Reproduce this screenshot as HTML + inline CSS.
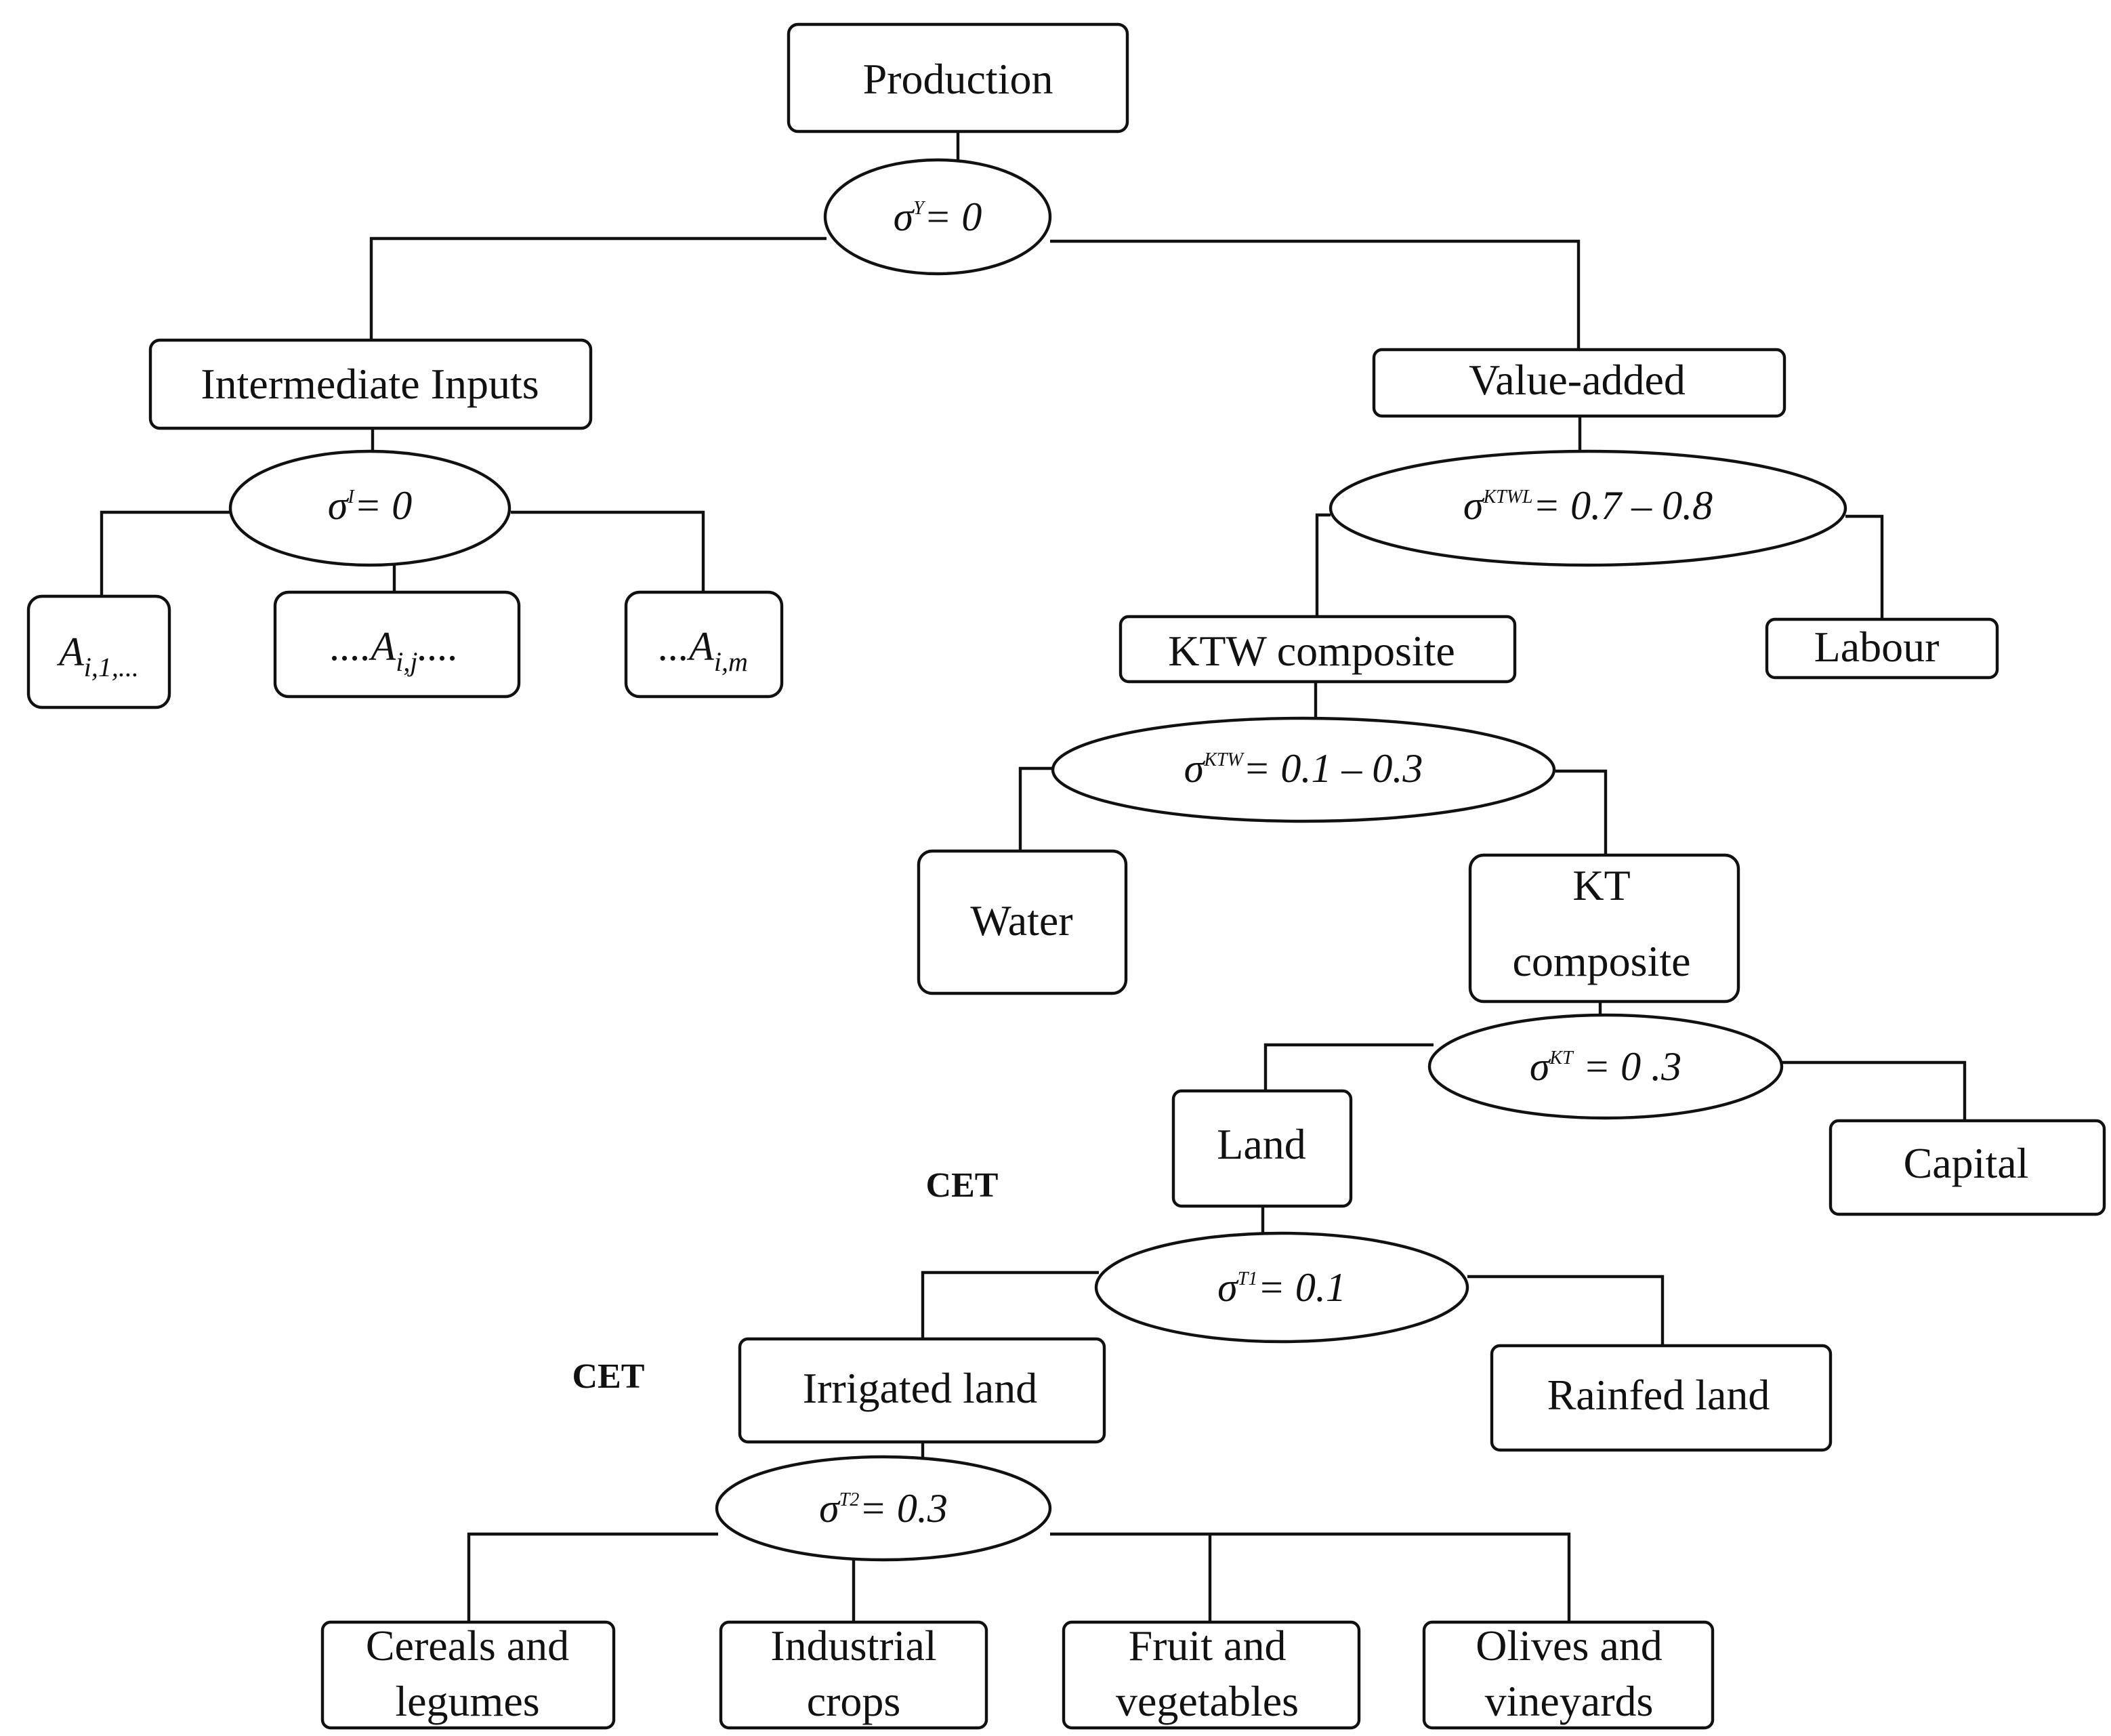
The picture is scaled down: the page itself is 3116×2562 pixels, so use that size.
<!DOCTYPE html>
<html><head><meta charset="utf-8"><style>html,body{margin:0;padding:0;background:#fff}svg{display:block}</style></head><body>
<svg width="3116" height="2562" viewBox="0 0 1558 1281" xmlns="http://www.w3.org/2000/svg">
<g fill="none" stroke="#111" stroke-width="2.2">
<path d="M707 97V140M610 176H274V251M775 178H1165V258"/>
<path d="M275 316V333M170 378H75V440M377 378H519V437M291 417V437"/>
<path d="M1166 307V335M982 380H972V455M1362 381H1389V457"/>
<path d="M971 503V530M778 567H753V628M1148 569H1185V631"/>
<path d="M1181 739V750M1058 771H934V805M1313 784H1450V827"/>
<path d="M932 890V913M811 939H681V988M1083 942H1227V993"/>
<path d="M681 1064V1076M530 1132H346V1197M630 1150V1197M775 1132H1158V1197M893 1132V1197"/>
</g>
<g fill="#fff" stroke="#111" stroke-width="2.2">
<rect x="582" y="18" width="250" height="79" rx="7"/>
<rect x="111" y="251" width="325" height="65" rx="7"/>
<rect x="21" y="440" width="104" height="82" rx="10"/>
<rect x="203" y="437" width="180" height="77" rx="10"/>
<rect x="462" y="437" width="115" height="77" rx="10"/>
<rect x="1014" y="258" width="303" height="49" rx="6"/>
<rect x="827" y="455" width="291" height="48" rx="6"/>
<rect x="1304" y="457" width="170" height="43" rx="6"/>
<rect x="678" y="628" width="153" height="105" rx="10"/>
<rect x="1085" y="631" width="198" height="108" rx="10"/>
<rect x="866" y="805" width="131" height="85" rx="6"/>
<rect x="1351" y="827" width="202" height="69" rx="6"/>
<rect x="546" y="988" width="269" height="76" rx="6"/>
<rect x="1101" y="993" width="250" height="77" rx="6"/>
<rect x="238" y="1197" width="215" height="78" rx="6"/>
<rect x="532" y="1197" width="196" height="78" rx="6"/>
<rect x="785" y="1197" width="218" height="78" rx="6"/>
<rect x="1051" y="1197" width="213" height="78" rx="6"/>
<ellipse cx="692" cy="160" rx="83" ry="42"/>
<ellipse cx="273" cy="375" rx="103" ry="42"/>
<ellipse cx="1172" cy="375" rx="190" ry="42"/>
<ellipse cx="962" cy="568" rx="185" ry="38"/>
<ellipse cx="1185" cy="787" rx="130" ry="38"/>
<ellipse cx="946" cy="950" rx="137" ry="40"/>
<ellipse cx="652" cy="1113" rx="123" ry="38"/>
</g>
<g font-family="Liberation Serif, serif" font-size="32" fill="#111" text-anchor="middle">
<text x="707" y="69">Production</text>
<text x="273" y="294">Intermediate Inputs</text>
<text x="1164" y="291">Value-added</text>
<text x="968" y="491">KTW composite</text>
<text x="1385" y="488">Labour</text>
<text x="754" y="690">Water</text>
<text x="1182" y="664">KT</text>
<text x="1182" y="720">composite</text>
<text x="931" y="855">Land</text>
<text x="1451" y="869">Capital</text>
<text x="679" y="1035">Irrigated land</text>
<text x="1224" y="1040">Rainfed land</text>
<text x="345" y="1225">Cereals and</text><text x="345" y="1266">legumes</text>
<text x="630" y="1225">Industrial</text><text x="630" y="1266">crops</text>
<text x="891" y="1225">Fruit and</text><text x="891" y="1266">vegetables</text>
<text x="1158" y="1225">Olives and</text><text x="1158" y="1266">vineyards</text>
<g font-weight="bold" font-size="26"><text x="710" y="883">CET</text><text x="449" y="1024">CET</text></g>
<g font-style="italic" font-size="30">
<text x="73" y="491">A<tspan font-size="20" dy="8">i,1,...</tspan></text>
<text x="291" y="487">....A<tspan font-size="20" dy="8">i,j</tspan><tspan dy="-8">....</tspan></text>
<text x="519" y="487">...A<tspan font-size="20" dy="8">i,m</tspan></text>
<text x="692" y="170">σ<tspan font-size="14" dy="-12">Y</tspan><tspan dy="12">= 0</tspan></text>
<text x="273" y="383">σ<tspan font-size="14" dy="-12">I</tspan><tspan dy="12">= 0</tspan></text>
<text x="1172" y="383">σ<tspan font-size="14" dy="-12">KTWL</tspan><tspan dy="12">= 0.7 – 0.8</tspan></text>
<text x="962" y="577">σ<tspan font-size="14" dy="-12">KTW</tspan><tspan dy="12">= 0.1 – 0.3</tspan></text>
<text x="1185" y="797">σ<tspan font-size="14" dy="-12">KT</tspan><tspan dy="12"> = 0 .3</tspan></text>
<text x="946" y="960">σ<tspan font-size="14" dy="-12">T1</tspan><tspan dy="12">= 0.1</tspan></text>
<text x="652" y="1123">σ<tspan font-size="14" dy="-12">T2</tspan><tspan dy="12">= 0.3</tspan></text>
</g>
</g>
</svg>
</body></html>
